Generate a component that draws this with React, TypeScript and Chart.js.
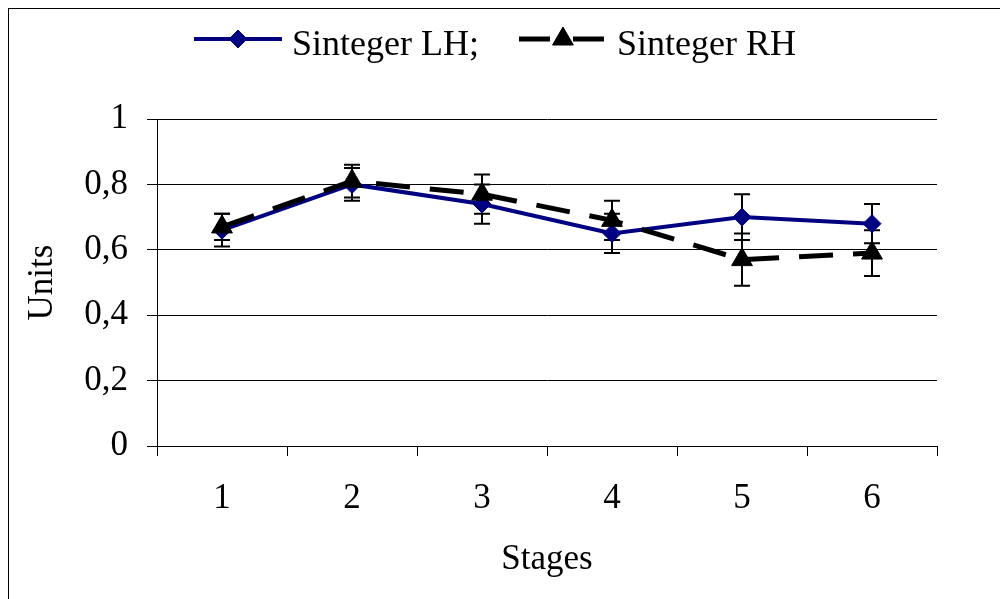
import React, { useEffect, useRef } from 'react';
import { Chart, registerables } from 'chart.js';
import { drawPoint } from 'chart.js/helpers';

Chart.register(...registerables);

const stages = ['1', '2', '3', '4', '5', '6'];
const lhValues = [0.66, 0.8, 0.74, 0.65, 0.7, 0.68];
const lhErrors = [0.05, 0.05, 0.06, 0.06, 0.07, 0.06];
const rhValues = [0.67, 0.81, 0.77, 0.69, 0.57, 0.59];
const rhErrors = [0.04, 0.05, 0.06, 0.06, 0.08, 0.07];
const yTickLabels = ['0', '0,2', '0,4', '0,6', '0,8', '1'];
const seriesLabels = ['Sinteger LH;', 'Sinteger RH'];
const xTitle = 'Stages';
const yTitle = 'Units';

const FONT = "'Liberation Serif', 'Times New Roman', serif";

const errorBarPlugin = {
  id: 'errorBars',
  beforeDatasetsDraw(chart: any, _args: any, opts: any) {
    const ctx = chart.ctx;
    const yScale = chart.scales.y;
    const errs: number[][] = opts.errors || [];
    chart.data.datasets.forEach((ds: any, di: number) => {
      const meta = chart.getDatasetMeta(di);
      const e = errs[di];
      if (!e) return;
      meta.data.forEach((pt: any, i: number) => {
        const v = ds.data[i];
        const top = yScale.getPixelForValue(v + e[i]);
        const bot = yScale.getPixelForValue(v - e[i]);
        const x = pt.x;
        ctx.save();
        ctx.strokeStyle = '#000';
        ctx.lineWidth = 2;
        ctx.beginPath();
        ctx.moveTo(x, top);
        ctx.lineTo(x, bot);
        ctx.moveTo(x - 8, top);
        ctx.lineTo(x + 8, top);
        ctx.moveTo(x - 8, bot);
        ctx.lineTo(x + 8, bot);
        ctx.stroke();
        ctx.restore();
      });
    });
  },
};

const lineLegendPlugin = {
  id: 'lineLegend',
  afterDraw(chart: any, _args: any, opts: any) {
    const ctx = chart.ctx;
    let x = opts.left;
    const y = opts.lineY;
    ctx.save();
    ctx.font = `36px ${FONT}`;
    chart.data.datasets.forEach((ds: any) => {
      const w = opts.sampleWidth;
      ctx.strokeStyle = ds.borderColor;
      ctx.lineWidth = ds.borderWidth;
      ctx.lineCap = 'butt';
      ctx.setLineDash(ds.borderDash && ds.borderDash.length ? [31, 23] : []);
      ctx.beginPath();
      ctx.moveTo(x, y);
      ctx.lineTo(x + w, y);
      ctx.stroke();
      ctx.setLineDash([]);
      ctx.fillStyle = ds.pointBackgroundColor;
      ctx.strokeStyle = ds.pointBorderColor;
      ctx.lineWidth = 1;
      drawPoint(ctx, { pointStyle: ds.pointStyle, rotation: 0, radius: ds.pointRadius, borderWidth: 1 }, x + w / 2, y);
      ctx.fillStyle = '#000';
      ctx.textBaseline = 'alphabetic';
      ctx.textAlign = 'left';
      const tx = x + w + 10;
      ctx.fillText(ds.label, tx, opts.textBaseline);
      x = tx + ctx.measureText(ds.label).width + opts.gap;
    });
    ctx.restore();
  },
};

export default function App() {
  const canvasRef = useRef<HTMLCanvasElement | null>(null);

  useEffect(() => {
    const canvas = canvasRef.current;
    if (!canvas) return;
    const chart = new Chart(canvas, {
      type: 'line',
      data: {
        labels: stages,
        datasets: [
          {
            label: seriesLabels[0],
            data: lhValues,
            borderColor: '#000080',
            backgroundColor: '#000080',
            borderWidth: 4,
            pointStyle: 'rectRot',
            pointRadius: 9,
            pointBackgroundColor: '#000080',
            pointBorderColor: '#000080',
            pointBorderWidth: 1,
            tension: 0,
            order: 1,
          },
          {
            label: seriesLabels[1],
            data: rhValues,
            borderColor: '#000000',
            backgroundColor: '#000000',
            borderWidth: 5,
            borderDash: [34, 20],
            pointStyle: 'triangle',
            pointRadius: 12,
            pointBackgroundColor: '#000000',
            pointBorderColor: '#000000',
            pointBorderWidth: 1,
            tension: 0,
            order: 0,
          },
        ],
      },
      options: {
        responsive: false,
        animation: false,
        devicePixelRatio: 1,
        layout: { padding: { top: 110, right: 70, left: 0, bottom: 0 } },
        plugins: {
          legend: { display: false },
          tooltip: { enabled: false },
          errorBars: { errors: [lhErrors, rhErrors] },
          lineLegend: { left: 185, lineY: 30, textBaseline: 46, sampleWidth: 88, gap: 40 },
        } as any,
        scales: {
          x: {
            offset: true,
            grid: {
              offset: true,
              drawOnChartArea: false,
              drawTicks: true,
              tickLength: 10,
              color: '#000',
              lineWidth: 1,
            },
            border: { display: true, color: '#000', width: 1 },
            ticks: {
              color: '#000',
              font: { family: FONT, size: 35, lineHeight: 1.2 },
              padding: 22,
              maxRotation: 0,
            },
            title: {
              display: true,
              text: xTitle,
              color: '#000',
              font: { family: FONT, size: 35, lineHeight: 1.2 },
              padding: { top: 0, bottom: 18 },
            },
            afterFit: (scale: any) => {
              scale.height = 153;
            },
          },
          y: {
            min: 0,
            max: 1,
            grid: {
              color: '#000',
              lineWidth: 1,
              drawTicks: true,
              tickLength: 10,
            },
            border: { display: true, color: '#000', width: 1 },
            ticks: {
              stepSize: 0.2,
              color: '#000',
              font: { family: FONT, size: 35, lineHeight: 1.2 },
              padding: 19,
              callback: (_v: any, i: number) => yTickLabels[i],
            },
            title: {
              display: true,
              text: yTitle,
              color: '#000',
              font: { family: FONT, size: 35, lineHeight: 1.2 },
              padding: { top: 13, bottom: 0 },
            },
            afterFit: (scale: any) => {
              scale.width = 148;
            },
          },
        },
      },
      plugins: [errorBarPlugin, lineLegendPlugin],
    });
    return () => chart.destroy();
  }, []);

  return (
    <div
      style={{
        width: 1000,
        height: 600,
        borderTop: '1px solid #000',
        borderLeft: '1px solid #000',
        boxSizing: 'border-box',
        background: '#fff',
      }}
    >
      <canvas ref={canvasRef} width={998} height={590} style={{ display: 'block', width: 998, height: 590 }} />
    </div>
  );
}
